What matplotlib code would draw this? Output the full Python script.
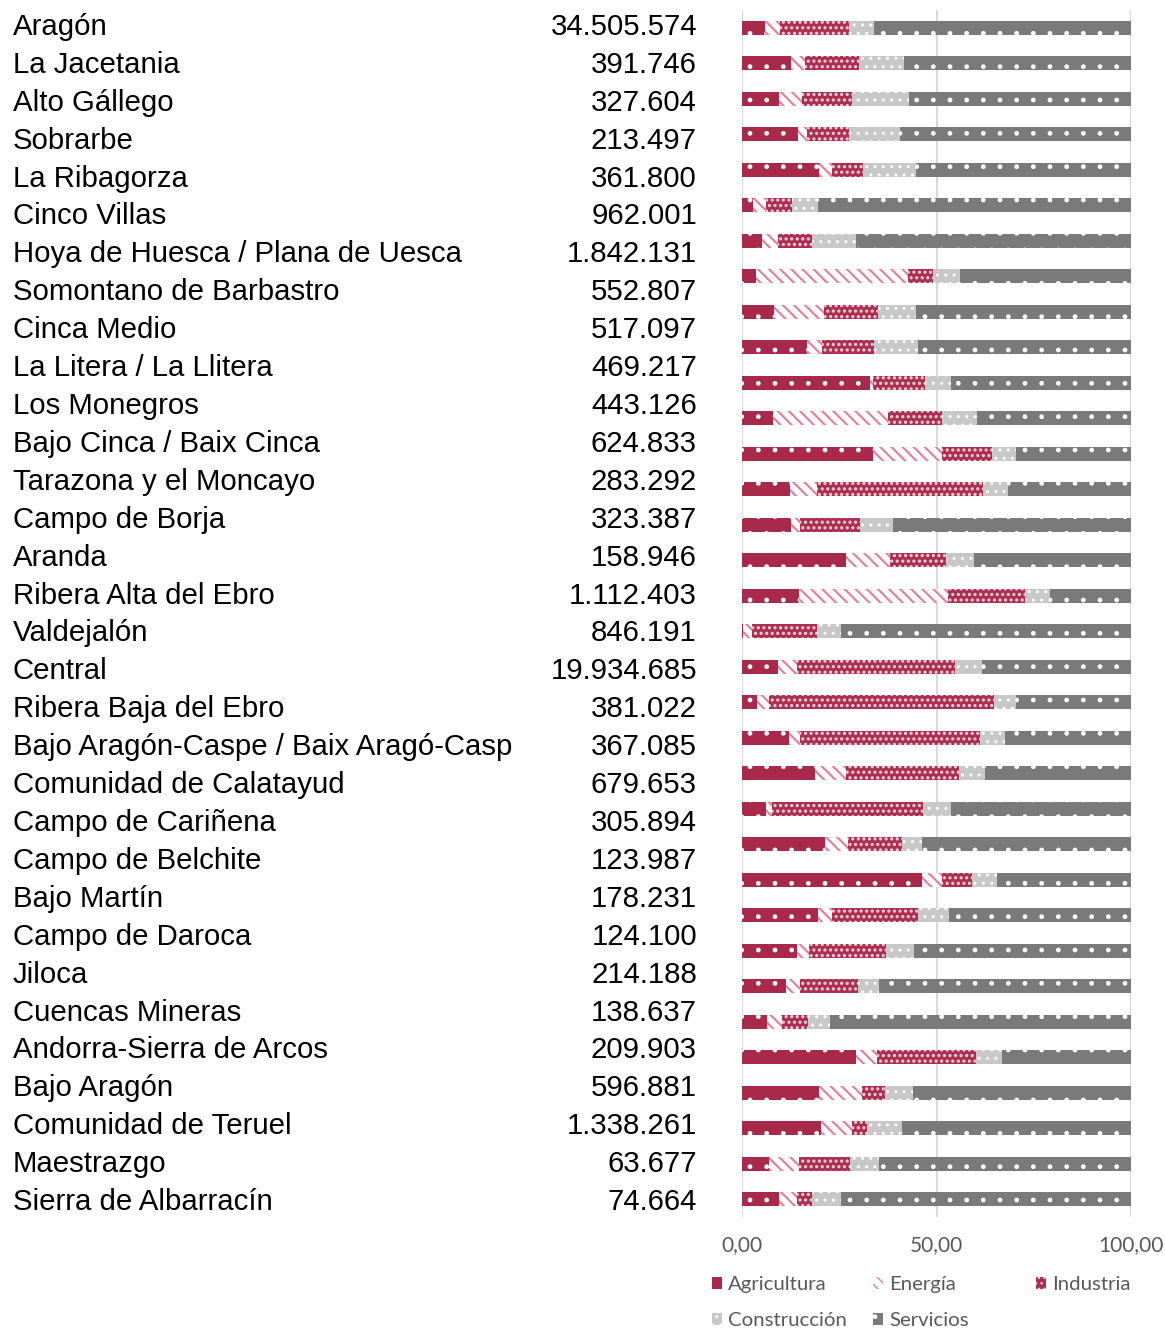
import matplotlib
matplotlib.use("Agg")
import matplotlib.pyplot as plt
from matplotlib.patches import Patch
from matplotlib.ticker import FuncFormatter
import numpy as np

# ---------------- data ----------------
table_names = [
    "Aragón", "La Jacetania", "Alto Gállego", "Sobrarbe", "La Ribagorza",
    "Cinco Villas", "Hoya de Huesca / Plana de Uesca", "Somontano de Barbastro",
    "Cinca Medio", "La Litera / La Llitera", "Los Monegros", "Bajo Cinca / Baix Cinca",
    "Tarazona y el Moncayo", "Campo de Borja", "Aranda", "Ribera Alta del Ebro",
    "Valdejalón", "Central", "Ribera Baja del Ebro", "Bajo Aragón-Caspe / Baix Aragó-Casp",
    "Comunidad de Calatayud", "Campo de Cariñena", "Campo de Belchite", "Bajo Martín",
    "Campo de Daroca", "Jiloca", "Cuencas Mineras", "Andorra-Sierra de Arcos",
    "Bajo Aragón", "Comunidad de Teruel", "Maestrazgo", "Sierra de Albarracín",
]
table_values = [
    "34.505.574", "391.746", "327.604", "213.497", "361.800", "962.001", "1.842.131",
    "552.807", "517.097", "469.217", "443.126", "624.833", "283.292", "323.387",
    "158.946", "1.112.403", "846.191", "19.934.685", "381.022", "367.085", "679.653",
    "305.894", "123.987", "178.231", "124.100", "214.188", "138.637", "209.903",
    "596.881", "1.338.261", "63.677", "74.664",
]

bar_categories = table_names + ["Gúdar-Javalambre", "Matarraña"]

agricultura = [5.8, 12.5, 9.4, 14.4, 19.7, 2.7, 5.1, 3.6, 8.1, 16.7, 32.9, 7.8, 33.6, 12.2,
               12.5, 26.8, 14.6, 0.3, 9.2, 3.8, 12.0, 18.7, 6.1, 21.3, 46.2, 19.6, 14.1,
               11.2, 6.3, 29.3, 19.7, 20.2, 6.9, 9.5]
energia = [3.9, 3.6, 5.9, 2.2, 3.5, 3.3, 4.2, 39.1, 13.0, 3.9, 0.6, 29.6, 17.9, 7.1,
           2.3, 11.2, 38.4, 2.1, 4.8, 3.1, 2.9, 8.0, 1.6, 6.0, 5.1, 3.5, 3.1,
           3.6, 3.8, 5.4, 11.0, 7.9, 7.6, 4.7]
industria = [17.7, 13.9, 13.0, 10.8, 7.8, 6.7, 8.7, 6.3, 13.9, 13.4, 13.5, 14.1, 12.8, 42.6,
             15.6, 14.3, 19.8, 16.8, 40.6, 57.9, 46.3, 29.0, 38.9, 13.8, 7.9, 22.1, 19.8,
             15.0, 6.7, 25.4, 6.0, 4.1, 13.1, 3.8]
construccion = [6.6, 11.6, 14.5, 13.2, 13.7, 6.7, 11.2, 7.0, 9.8, 11.2, 6.6, 8.9, 6.0, 6.4,
                8.3, 7.4, 6.4, 6.2, 7.1, 5.6, 6.4, 6.8, 7.1, 5.1, 6.3, 8.0, 7.1,
                5.3, 5.8, 6.8, 7.1, 8.8, 7.6, 7.3]
servicios = [66.0, 58.4, 57.2, 59.4, 55.3, 80.6, 70.8, 44.0, 55.2, 54.8, 46.4, 39.6, 29.7, 31.7,
             61.3, 40.3, 20.8, 74.6, 38.3, 29.6, 32.4, 37.5, 46.3, 53.8, 34.5, 46.8, 55.9,
             64.9, 77.4, 33.1, 56.2, 59.0, 64.8, 74.7]

series_names = ["Agricultura", "Energía", "Industria", "Construcción", "Servicios"]
series_values = [agricultura, energia, industria, construccion, servicios]

# styles: face colour, hatch colour, hatch, hatch line width
styles = [
    dict(face="#A8294A", hc="white", hatch=".", lw=1.0),
    dict(face="white", hc="#EA7A95", hatch="\\\\\\", lw=1.5),
    dict(face="#AB2F50", hc="#F3D3DB", hatch="...", lw=1.5),
    dict(face="#C8C8C8", hc="white", hatch="..", lw=1.0),
    dict(face="#7A7A7A", hc="white", hatch=".", lw=1.0),
]

# ---------------- figure ----------------
plt.rcParams["font.family"] = ["Lato", "DejaVu Sans"]
W, H = 1165, 1328
fig = plt.figure(figsize=(W / 100, H / 100), dpi=100)

# bar chart axes
ax = fig.add_axes([742.3 / W, 1 - 1217 / H, 388.7 / W, 1207 / H])
ypos = np.arange(len(bar_categories))
left = np.zeros(len(bar_categories))
handles = []
for name, vals, st in zip(series_names, series_values, styles):
    vals = np.asarray(vals, dtype=float)
    with plt.rc_context({"hatch.linewidth": st["lw"]}):
        ax.barh(ypos, vals, left=left, height=0.39, color=st["face"],
                edgecolor=st["hc"], linewidth=0, hatch=st["hatch"], zorder=3)
        handles.append(Patch(facecolor=st["face"], edgecolor=st["hc"], linewidth=0,
                             hatch=st["hatch"], label=name))
    left += vals

ax.set_xlim(0, 100)
ax.set_ylim(len(bar_categories) - 0.5, -0.5)
ax.set_xticks([0, 50, 100])
ax.xaxis.set_major_formatter(FuncFormatter(lambda v, p: f"{v:.2f}".replace(".", ",")))
ax.set_yticks([])
ax.grid(axis="x", color="#D9D9D9", linewidth=1.5, zorder=0)
ax.set_axisbelow(True)
for sp in ax.spines.values():
    sp.set_visible(False)
ax.tick_params(axis="x", length=0, pad=13, labelsize=15, labelcolor="#595959")

# table (names + values)
tax = fig.add_axes([0, 1 - 1221 / H, 1, (1221 - 8) / H])
tax.set_xlim(0, W)
tax.set_ylim(len(table_names) - 0.5, -0.5)
tax.axis("off")
for i, (n, v) in enumerate(zip(table_names, table_values)):
    tax.text(13, i, n, ha="left", va="center", fontsize=21.2,
             family=["Liberation Sans", "DejaVu Sans"], color="black")
    tax.text(697, i, v, ha="right", va="center", fontsize=21.2,
             family=["Liberation Sans", "DejaVu Sans"], color="black")

# legend: three columns
cols = [(712, [0, 3]), (873, [1, 4]), (1036, [2])]
for x, idx in cols:
    fig.legend(handles=[handles[k] for k in idx], loc="upper left",
               bbox_to_anchor=(x / W, 1 - 1276 / H), frameon=False,
               fontsize=14.7, handlelength=0.5, handleheight=0.5,
               handletextpad=0.3, borderpad=0, borderaxespad=0,
               labelspacing=0.93, labelcolor="#595959")

fig.savefig("out.png", dpi=100)
